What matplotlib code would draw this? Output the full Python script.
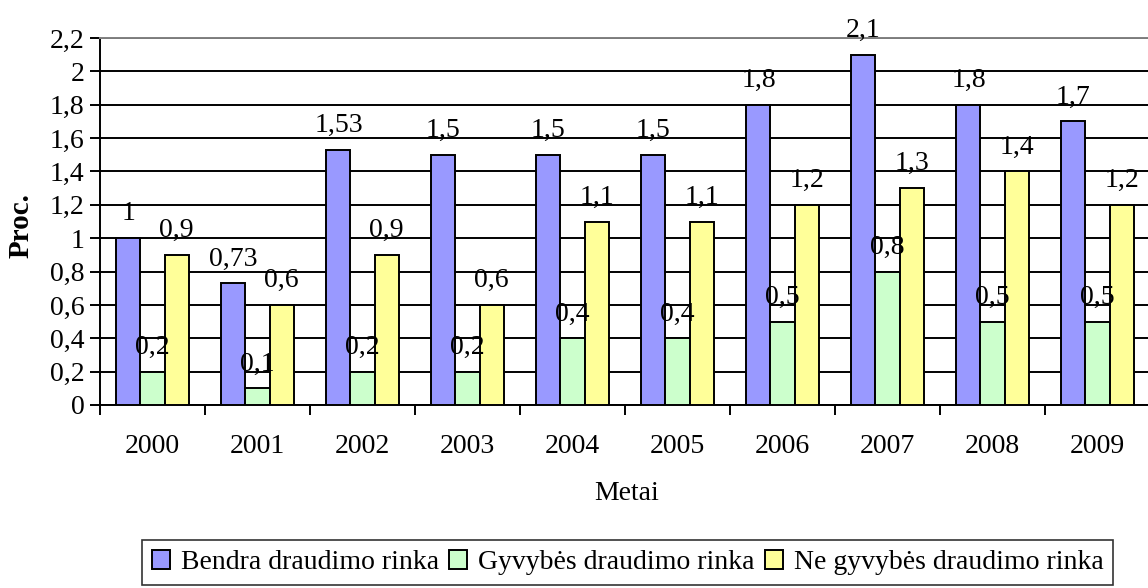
import matplotlib
matplotlib.use("Agg")
import matplotlib.pyplot as plt
from matplotlib.ticker import FixedLocator, FuncFormatter
import numpy as np

years = ["2000", "2001", "2002", "2003", "2004", "2005", "2006", "2007", "2008", "2009"]
bendra = [1, 0.73, 1.53, 1.5, 1.5, 1.5, 1.8, 2.1, 1.8, 1.7]
gyvybes = [0.2, 0.1, 0.2, 0.2, 0.4, 0.4, 0.5, 0.8, 0.5, 0.5]
ne_gyvybes = [0.9, 0.6, 0.9, 0.6, 1.1, 1.1, 1.2, 1.3, 1.4, 1.2]
series_names = ["Bendra draudimo rinka", "Gyvybės draudimo rinka", "Ne gyvybės draudimo rinka"]
colors = ["#9999FF", "#CCFFCC", "#FFFF99"]
yticks = [0, 0.2, 0.4, 0.6, 0.8, 1, 1.2, 1.4, 1.6, 1.8, 2, 2.2]

plt.rcParams['font.family'] = ['Liberation Serif', 'DejaVu Serif']
FS = 20

W, H = 1148, 588
fig = plt.figure(figsize=(W / 100, H / 100), dpi=100)
ax = fig.add_axes([100 / W, (H - 405) / H, 1050 / W, (405 - 38) / H])

def fmt(v):
    s = f"{v:g}"
    return s.replace('.', ',')

x = np.arange(len(years))
bw = 0.229
all_series = [bendra, gyvybes, ne_gyvybes]
for i, (vals, c, name) in enumerate(zip(all_series, colors, series_names)):
    pos = x + (i - 1) * bw
    ax.bar(pos, vals, width=bw, color=c, edgecolor='black', linewidth=1.4,
           label=name, zorder=3)
    for xp, v in zip(pos, vals):
        ax.annotate(fmt(v), (xp, v), xytext=(0, 17.5), textcoords='offset points',
                    ha='center', va='center', fontsize=FS, zorder=5)

ax.set_xlim(-0.5, len(years) - 0.5)
ax.set_ylim(0, 2.2)
ax.set_yticks(yticks)
ax.yaxis.set_major_formatter(FuncFormatter(lambda v, p: fmt(round(v, 1))))
ax.yaxis.grid(True, color='black', linewidth=1.4, zorder=0)
ax.set_axisbelow(True)

ax.set_xticks(x)
ax.set_xticklabels(years)
ax.xaxis.set_minor_locator(FixedLocator(np.arange(-0.5, len(years), 1.0)))
ax.tick_params(axis='x', which='major', length=0, pad=21, labelsize=FS)
ax.tick_params(axis='x', which='minor', length=7, width=1.4, direction='out')
ax.tick_params(axis='y', which='major', length=7, width=1.4, direction='out', pad=4, labelsize=FS)

for s in ['left', 'bottom']:
    ax.spines[s].set_linewidth(1.4)
    ax.spines[s].set_color('black')
ax.spines['top'].set_color('#808080')
ax.spines['top'].set_linewidth(1.4)
ax.spines['right'].set_visible(False)

fig.text(627 / W, 1 - 493 / H, "Metai", ha='center', va='center', fontsize=FS)
fig.text(21 / W, 1 - 226 / H, "Proc.", ha='center', va='center', fontsize=21,
         fontweight='bold', rotation=90)

leg = fig.legend(loc='upper left', bbox_to_anchor=(142 / W, 1 - 540 / H), ncol=3,
                 fontsize=FS, frameon=True, fancybox=False, edgecolor='black',
                 handlelength=0.65, handleheight=0.65, handletextpad=0.38,
                 columnspacing=0.38, borderpad=0.36, borderaxespad=0)
leg.get_frame().set_linewidth(1.2)

fig.savefig("out.png", dpi=100)
